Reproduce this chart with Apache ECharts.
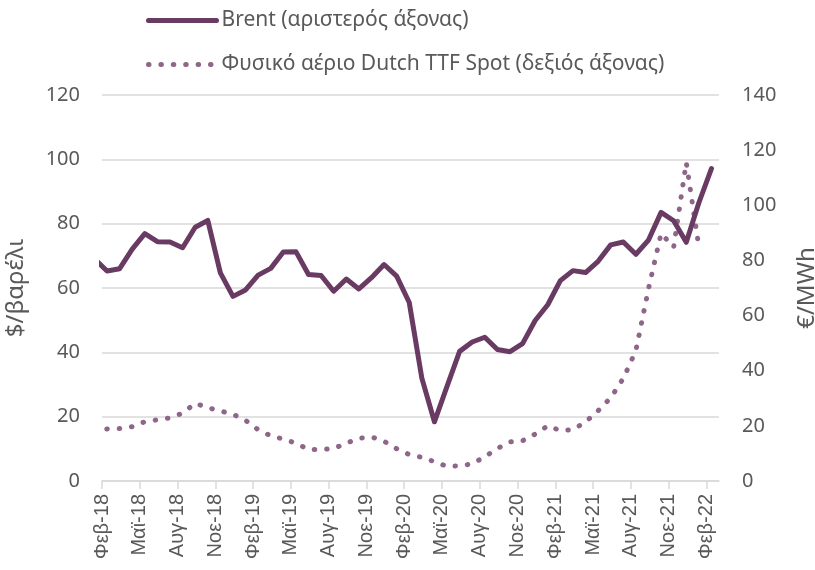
<!DOCTYPE html>
<html>
<head>
<meta charset="utf-8">
<script src="https://cdn.jsdelivr.net/npm/echarts@6/dist/echarts.min.js"></script>
<style>
  html, body { margin: 0; padding: 0; background: #fff; }
  #chart { width: 815px; height: 570px; }
</style>
</head>
<body>
<div id="chart"></div>
<script>
// τιμές ανά μήνα, από Ιαν-18 (ο Ιαν-18 κόβεται στην αρχή του άξονα)
const brent = [
  69.1, 65.3, 66.0, 72.1, 76.9, 74.4, 74.3, 72.5, 78.9, 81.0, 64.7, 57.4,
  59.4, 64.0, 66.1, 71.2, 71.3, 64.2, 63.9, 59.0, 62.8, 59.7, 63.2, 67.3,
  63.7, 55.5, 32.0, 18.4, 29.4, 40.3, 43.2, 44.7, 40.9, 40.2, 42.7, 49.9,
  54.8, 62.3, 65.4, 64.8, 68.3, 73.4, 74.3, 70.5, 74.9, 83.5, 80.9, 74.2,
  86.5, 97.1
];
const ttf = [
  18.5, 18.9, 19.0, 19.7, 21.5, 22.2, 22.9, 24.6, 28.2, 26.6, 25.4, 24.2,
  22.0, 18.6, 16.4, 15.2, 13.7, 11.4, 11.4, 11.8, 13.7, 15.5, 16.0, 14.4,
  11.7, 9.6, 8.6, 7.0, 5.3, 5.5, 6.2, 8.8, 11.8, 14.2, 14.6, 17.0,
  20.0, 18.3, 18.6, 21.4, 25.5, 30.2, 37.2, 47.3, 69.7, 89.8, 84.8, 115.5,
  85.0
];
// ετικέτες άξονα x, ανά τρίμηνο από Φεβ-18
const tickLabels = [
  'Φεβ-18', 'Μαϊ-18', 'Αυγ-18', 'Νοε-18',
  'Φεβ-19', 'Μαϊ-19', 'Αυγ-19', 'Νοε-19',
  'Φεβ-20', 'Μαϊ-20', 'Αυγ-20', 'Νοε-20',
  'Φεβ-21', 'Μαϊ-21', 'Αυγ-21', 'Νοε-21',
  'Φεβ-22'
];
const leftTicks = [0, 20, 40, 60, 80, 100, 120];
const rightTicks = [0, 20, 40, 60, 80, 100, 120, 140];

// ο πρώτος μήνας (Ιαν-18) είναι ένα βήμα πριν το Φεβ-18, οι τιμές κάθονται μέσα στον μήνα
const FIRST = -1;
const MID = 0.4;
const toPoints = arr => arr.map((v, i) => [FIRST + i + MID, v]);

const grey = '#595959';
const brentColor = '#693B63';
const ttfColor = '#8D6689';
const chart = echarts.init(document.getElementById('chart'));

const option = {
  animation: false,
  textStyle: { fontFamily: 'Noto Sans' },
  legend: {
    orient: 'vertical',
    left: 141,
    top: 5,
    itemWidth: 68,
    itemHeight: 26,
    itemGap: 23,
    itemStyle: { opacity: 0 },
    lineStyle: { width: 5 },
    textStyle: { fontSize: 21, color: grey, fontFamily: 'Noto Sans' },
    data: ['Brent (αριστερός άξονας)', 'Φυσικό αέριο Dutch TTF Spot (δεξιός άξονας)']
  },
  grid: { left: 102, right: 96, top: 95, bottom: 89, outerBoundsMode: 'none', containLabel: false },
  xAxis: {
    type: 'value',
    min: 0,
    max: 49,
    interval: 3,
    axisLine: { show: true, lineStyle: { color: '#d9d9d9', width: 1.5 } },
    axisTick: { show: true, length: 8, lineStyle: { color: '#d9d9d9', width: 1.5 } },
    splitLine: { show: false },
    axisLabel: {
      rotate: 90,
      margin: 13,
      fontSize: 20,
      color: grey,
      fontFamily: 'Liberation Sans',
      padding: [11, 0, 0, 0],
      showMaxLabel: false,
      formatter: v => (v % 3 === 0 ? (tickLabels[v / 3] || '') : '')
    }
  },
  yAxis: [
    {
      type: 'value',
      min: leftTicks[0],
      max: leftTicks[leftTicks.length - 1],
      interval: 20,
      name: '$/βαρέλι',
      nameLocation: 'middle',
      nameRotate: 90,
      nameGap: 74,
      nameTextStyle: { fontSize: 24, color: grey },
      axisLine: { show: false },
      axisTick: { show: false },
      axisLabel: { fontSize: 20, color: grey, margin: 22 },
      splitLine: { lineStyle: { color: '#d9d9d9', width: 1.5 } }
    },
    {
      type: 'value',
      min: rightTicks[0],
      max: rightTicks[rightTicks.length - 1],
      interval: 20,
      name: '€/MWh',
      nameLocation: 'middle',
      nameRotate: 90,
      nameGap: 76,
      nameTextStyle: { fontSize: 24, color: grey },
      axisLine: { show: false },
      axisTick: { show: false },
      axisLabel: { fontSize: 20, color: grey, margin: 23 },
      splitLine: { show: false }
    }
  ],
  series: [
    {
      name: 'Brent (αριστερός άξονας)',
      type: 'line',
      yAxisIndex: 0,
      symbol: 'none',
      z: 3,
      data: toPoints(brent),
      lineStyle: { color: brentColor, width: 5, cap: 'round', join: 'round' },
      itemStyle: { color: brentColor }
    },
    {
      name: 'Φυσικό αέριο Dutch TTF Spot (δεξιός άξονας)',
      type: 'line',
      yAxisIndex: 1,
      symbol: 'none',
      z: 2,
      data: toPoints(ttf),
      lineStyle: { color: ttfColor, width: 5, type: [0.5, 11.9], cap: 'round', join: 'round' },
      itemStyle: { color: ttfColor }
    }
  ]
};
chart.setOption(option);
</script>
</body>
</html>
